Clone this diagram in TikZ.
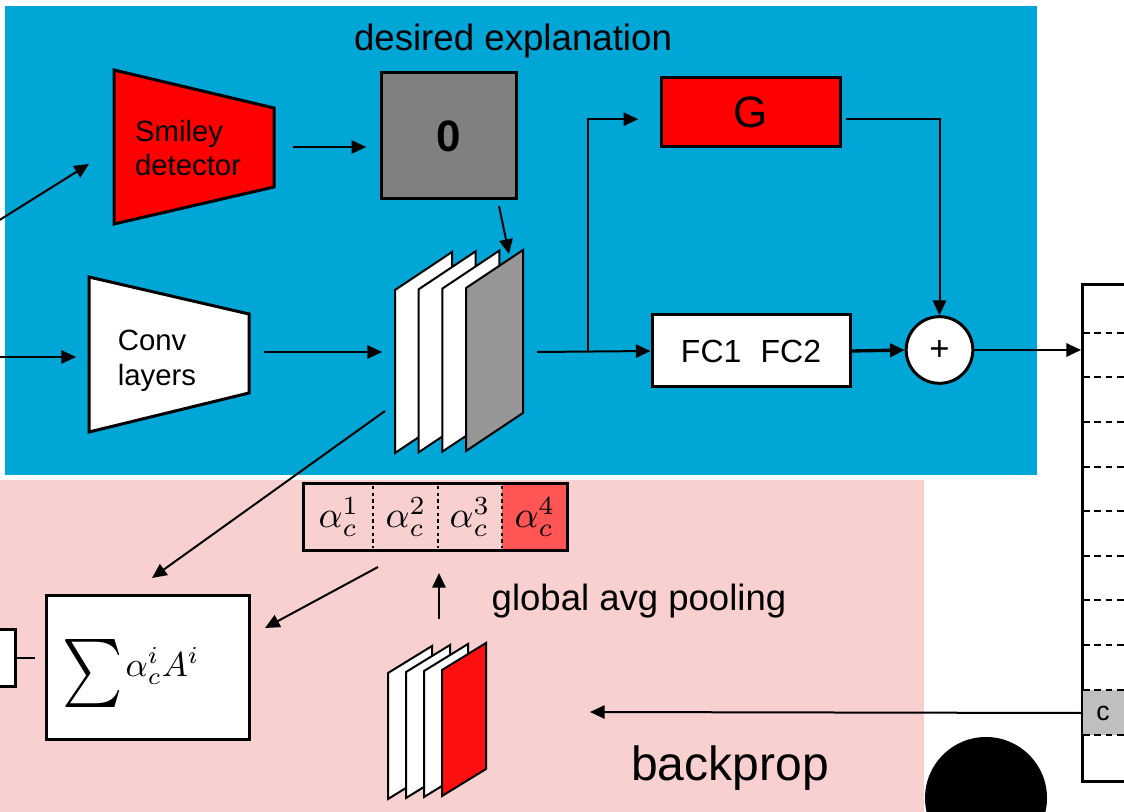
\documentclass[tikz,border=0pt]{standalone}
\usepackage{fontspec}
\usepackage{graphicx}
\setmainfont{Liberation Sans}
\usetikzlibrary{arrows.meta}
\definecolor{panelblue}{RGB}{0,166,214}
\definecolor{panelpink}{RGB}{248,208,208}
\definecolor{boxgray}{RGB}{128,128,128}
\definecolor{mapgray}{RGB}{150,150,150}
\definecolor{mapred}{RGB}{255,16,16}
\definecolor{cellred}{RGB}{255,85,85}
\definecolor{cellgray}{RGB}{191,191,191}
\begin{document}
\begin{tikzpicture}[x=0.75pt, y=-0.75pt, every node/.style={font=\fontsize{22}{26}\selectfont},
  b/.style={draw, line width=2.25pt, inner sep=0pt},
  trap/.style={draw, line width=2.25pt},
  sheet/.style={draw, line width=1.5pt},
  arr/.style={-{Triangle[length=11pt,width=10pt]}, line width=1.5pt}]
  \useasboundingbox (0,0) rectangle (1124,812);
  \clip (0,0) rectangle (1124,812);
  \fill[panelblue] (5,6) rectangle (1037,475);
  \fill[panelpink] (0,480) rectangle (924,812);
  \node[font=\fontsize{27.5}{27.5}\selectfont, anchor=base] (title) at (513,51) {desired explanation};
  % top branch
  \filldraw[trap, fill=red] (114,70) -- (274,108) -- (274,187) -- (114,224) -- cycle;
  \node[align=left] (smiley) at (188,148) {Smiley\\detector};
  \node[b, fill=boxgray, minimum width=101.25pt, minimum height=94.5pt, font=\bfseries\fontsize{33}{33}\selectfont] (zero) at (448.5,136) {0};
  \node[b, fill=red, minimum width=134.25pt, minimum height=51.75pt, font=\fontsize{33}{33}\selectfont] (g) at (750.5,112.5) {G};
  % main branch
  \filldraw[trap, fill=white] (89,277) -- (249,314) -- (249,393) -- (89,432) -- cycle;
  \node[align=left] (conv) at (157,361) {Conv\\layers};
  \foreach \i/\c in {0/white,1/white,2/white,3/mapgray}
    \filldraw[sheet, fill=\c] ({395+23.7*\i},{290-0.7*\i}) -- ++(57,-38) -- ++(0,163) -- ++(-57,38) -- cycle;
  \node[b, fill=white, minimum width=148.5pt, minimum height=54pt, font=\fontsize{24}{24}\selectfont] (fc) at (751,351) {FC1\hspace{0.6em}FC2};
  \node[draw, circle, line width=2.25pt, fill=white, minimum size=50pt, inner sep=0pt, font=\fontsize{26}{26}\selectfont] (plus) at (939.5,350) {+};
  % output column
  \node[b, fill=white, minimum width=75pt, minimum height=372.75pt, anchor=north west] (col) at (1081,283) {};
  \fill[cellgray] (1083,690) rectangle (1190,735);
  \foreach \y in {333,377,422,467,511,556,600,645,690,735}
    \draw[line width=1.2pt, dash pattern=on 5pt off 3.5pt] (1083,\y) -- (1190,\y);
  \node[font=\fontsize{20}{20}\selectfont] (cls) at (1103,713) {c};
  \fill (986,798) circle[radius=45.75pt];
  % grad-cam part
  \fill[cellred] (502,484) rectangle (567,550);
  \node[b, minimum width=198pt, minimum height=49.5pt] (alpha) at (435,517) {};
  \foreach \x in {373,438,502}
    \draw[line width=1pt, dash pattern=on 2.5pt off 2.5pt] (\x,486) -- (\x,548);
  \foreach \i/\x in {1/339,2/406,3/470,4/535}
    \node[inner sep=0pt] (a\i) at (\x,517) {\scalebox{2.8}{\normalsize$\alpha_c^{\i}$}};
  \node[b, fill=white, minimum width=152.25pt, minimum height=108pt] (sum) at (147.5,667) {};
  \node[inner sep=0pt] (sumtxt) at (131,673)
    {\normalsize$\vcenter{\hbox{\scalebox{4.3}[5.1]{$\sum$}}}$\hspace{2pt}\scalebox{2.6}{$\alpha_c^iA^i$}};
  \node[b, fill=white, minimum width=60pt, minimum height=42.75pt] (prev) at (-25,657.5) {};
  \foreach \i/\c in {0/white,1/white,2/white,3/mapred}
    \filldraw[sheet, fill=\c] ({388+18*\i},{673-\i}) -- ++(44,-27) -- ++(0,126) -- ++(-44,27) -- cycle;
  \node[font=\fontsize{27.4}{27.4}\selectfont, anchor=base west] (pool) at (487,610) {global avg pooling};
  \node[font=\fontsize{36}{36}\selectfont, anchor=base] (bp) at (730,780) {backprop};
  % connectors
  \coordinate (in1) at (-10,226);
  \coordinate (smileyIn) at (89,164);
  \coordinate (in2) at (-10,357);
  \coordinate (convIn) at (76,357);
  \coordinate (smileyOut) at (293,147);
  \coordinate (zeroOut) at (499,206);
  \coordinate (mapIn) at (509,254);
  \coordinate (convOut) at (264,352);
  \coordinate (mapsIn) at (382,352);
  \coordinate (mapsOut) at (537,352);
  \coordinate (split) at (588,352);
  \coordinate (mapsLow) at (385,411);
  \coordinate (sumTop) at (152,578);
  \coordinate (alphaOut) at (378,567);
  \coordinate (sumIn) at (265,628);
  \coordinate (poolOut) at (439,619);
  \coordinate (poolIn) at (439,573);
  \coordinate (camIn) at (590,712);
  \draw[arr] (in1) -- (smileyIn);
  \draw[arr] (in2) -- (convIn);
  \draw[arr, shorten >=10pt] (smileyOut) -- (smileyOut -| zero.west);
  \draw[arr] (zeroOut) -- (mapIn);
  \draw[arr] (convOut) -- (mapsIn);
  \draw[arr] (mapsOut) -- (fc.west);
  \draw[arr, shorten >=16pt] (split) |- ([yshift=-5pt]g.west);
  \draw[arr] ([yshift=-5pt,xshift=3pt]g.east) -| (plus.north);
  \draw[arr, line width=2.5pt] (fc.east) -- (plus.west);
  \draw[arr] (plus.east) -- (plus.east -| col.west);
  \draw[arr] (cls.west -| col.west) -- (camIn);
  \draw[arr] (mapsLow) -- (sumTop);
  \draw[arr] (alphaOut) -- (sumIn);
  \draw[arr] (poolOut) -- (poolIn);
  \draw[line width=1.5pt] (prev.east) -- ++(18,0);
\end{tikzpicture}
\end{document}
